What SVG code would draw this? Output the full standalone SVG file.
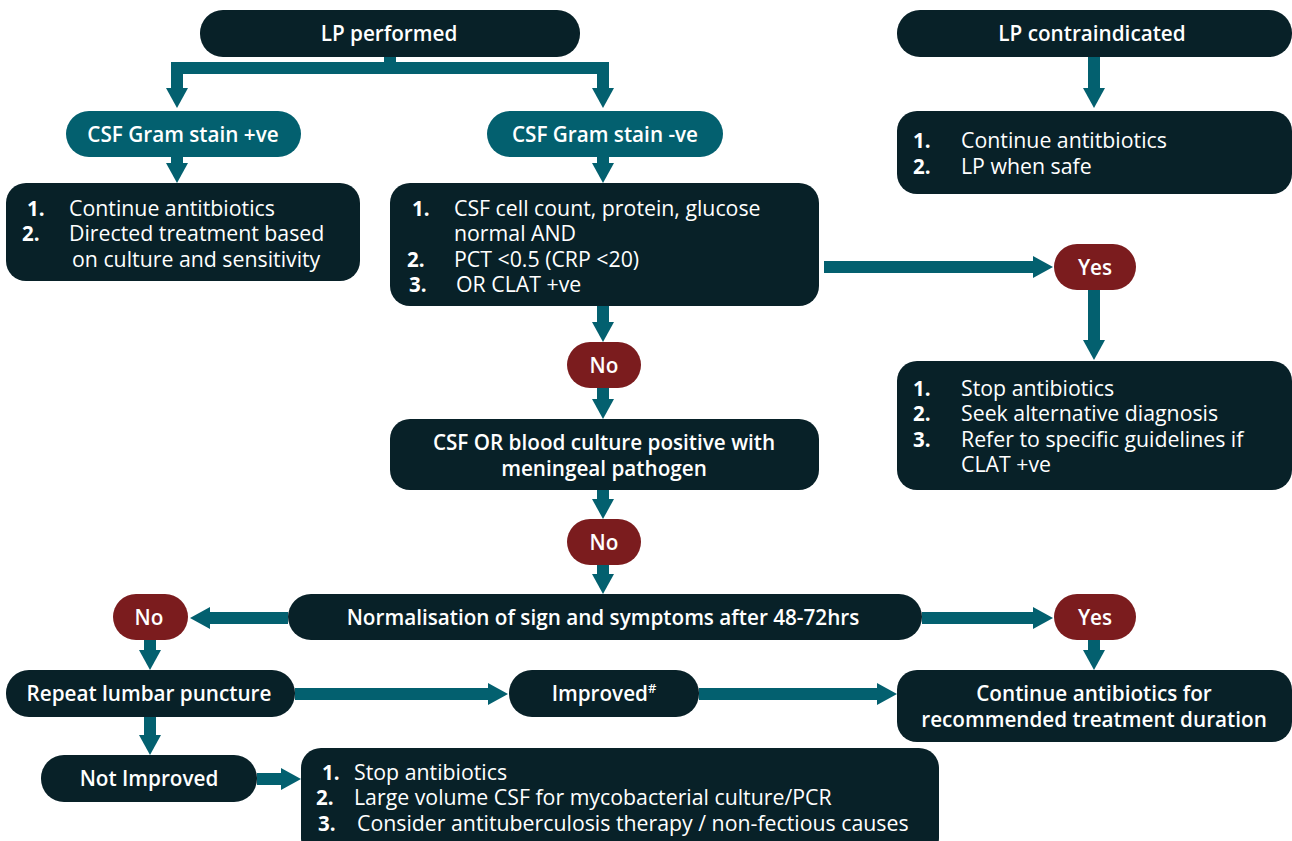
<svg xmlns="http://www.w3.org/2000/svg" width="1292" height="841" viewBox="0 0 1292 841">
<style>
.d{fill:#082128}
.t{fill:#03606f}
.r{fill:#7b1c1e}
text{font-family:"Open Sans","Noto Sans","Liberation Sans",sans-serif;fill:#ffffff;font-size:21.3px}
.b{font-weight:600;text-anchor:middle;font-size:20.7px}
.n{font-weight:700;font-size:20.5px}
.c{fill:none;stroke:#03606f;stroke-width:12}
</style>
<defs>
<marker id="ah" markerUnits="userSpaceOnUse" viewBox="0 0 20 22" refX="0" refY="11" markerWidth="20" markerHeight="22" orient="auto">
<path d="M0,0 L20,11 L0,22 Z" fill="#03606f"/>
</marker>
</defs>
<g id="connectors">
<path class="c" d="M390,57 V68 M171,68 H609"/>
<path class="c" d="M177,62 V88" marker-end="url(#ah)"/>
<path class="c" d="M603,62 V88" marker-end="url(#ah)"/>
<path class="c" d="M177,157 V163" marker-end="url(#ah)"/>
<path class="c" d="M603,157 V163" marker-end="url(#ah)"/>
<path class="c" d="M1094,57 V88" marker-end="url(#ah)"/>
<path class="c" d="M824,267 H1033" marker-end="url(#ah)"/>
<path class="c" d="M1094,290 V340" marker-end="url(#ah)"/>
<path class="c" d="M603,306 V322" marker-end="url(#ah)"/>
<path class="c" d="M603,388 V399" marker-end="url(#ah)"/>
<path class="c" d="M603,490 V499" marker-end="url(#ah)"/>
<path class="c" d="M603,565 V574" marker-end="url(#ah)"/>
<path class="c" d="M288,618 H210" marker-end="url(#ah)"/>
<path class="c" d="M922,618 H1033" marker-end="url(#ah)"/>
<path class="c" d="M150,640 V650" marker-end="url(#ah)"/>
<path class="c" d="M1094,640 V650" marker-end="url(#ah)"/>
<path class="c" d="M295,694 H488" marker-end="url(#ah)"/>
<path class="c" d="M699,694 H877" marker-end="url(#ah)"/>
<path class="c" d="M150,717 V735" marker-end="url(#ah)"/>
<path class="c" d="M257,779 H281" marker-end="url(#ah)"/>
</g>
<g id="lp-performed"><rect class="d" x="200" y="10" width="380" height="47" rx="23"/><text class="b" x="389" y="41">LP performed</text></g>
<g id="lp-contraindicated"><rect class="d" x="897" y="10" width="395" height="47" rx="23"/><text class="b" x="1092" y="41">LP contraindicated</text></g>
<g id="gram-pos"><rect class="t" x="66" y="111" width="235" height="46" rx="23"/><text class="b" x="183" y="142">CSF Gram stain +ve</text></g>
<g id="gram-neg"><rect class="t" x="487" y="111" width="236" height="46" rx="23"/><text class="b" x="605" y="142">CSF Gram stain -ve</text></g>
<g id="pos-actions"><rect class="d" x="6" y="183" width="354" height="98" rx="20"/>
<text class="n" x="27" y="216">1.</text><text x="69" y="216">Continue antitbiotics</text>
<text class="n" x="22" y="241">2.</text><text x="69" y="241">Directed treatment based</text>
<text x="72" y="267">on culture and sensitivity</text></g>
<g id="neg-criteria"><rect class="d" x="390" y="183" width="429" height="123" rx="20"/>
<text class="n" x="412" y="216">1.</text><text x="454" y="216">CSF cell count, protein, glucose</text>
<text x="454" y="241">normal AND</text>
<text class="n" x="407" y="267">2.</text><text x="454" y="267">PCT &lt;0.5 (CRP &lt;20)</text>
<text class="n" x="409" y="292">3.</text><text x="456" y="292">OR CLAT +ve</text></g>
<g id="contra-actions"><rect class="d" x="897" y="111" width="395" height="83" rx="20"/>
<text class="n" x="913" y="148">1.</text><text x="961" y="148">Continue antitbiotics</text>
<text class="n" x="913" y="174">2.</text><text x="961" y="174">LP when safe</text></g>
<g id="yes1"><rect class="r" x="1054" y="244" width="82" height="46" rx="23"/><text class="b" x="1095" y="275">Yes</text></g>
<g id="stop-actions"><rect class="d" x="897" y="361" width="395" height="129" rx="20"/>
<text class="n" x="913" y="396">1.</text><text x="961" y="396">Stop antibiotics</text>
<text class="n" x="913" y="421">2.</text><text x="961" y="421">Seek alternative diagnosis</text>
<text class="n" x="913" y="447">3.</text><text x="961" y="447">Refer to specific guidelines if</text>
<text x="961" y="472">CLAT +ve</text></g>
<g id="no1"><rect class="r" x="567" y="342" width="74" height="46" rx="23"/><text class="b" x="604" y="373">No</text></g>
<g id="culture"><rect class="d" x="390" y="419" width="429" height="71" rx="20"/>
<text class="b" x="604" y="450">CSF OR blood culture positive with</text>
<text class="b" x="604" y="476">meningeal pathogen</text></g>
<g id="no2"><rect class="r" x="567" y="519" width="74" height="46" rx="23"/><text class="b" x="604" y="550">No</text></g>
<g id="normalisation"><rect class="d" x="288" y="594" width="634" height="46" rx="23"/><text class="b" x="603" y="625">Normalisation of sign and symptoms after 48-72hrs</text></g>
<g id="no3"><rect class="r" x="113" y="594" width="75" height="46" rx="23"/><text class="b" x="149" y="625">No</text></g>
<g id="yes2"><rect class="r" x="1054" y="594" width="82" height="46" rx="23"/><text class="b" x="1095" y="625">Yes</text></g>
<g id="repeat-lp"><rect class="d" x="6" y="670" width="289" height="47" rx="23"/><text class="b" x="149" y="701">Repeat lumbar puncture</text></g>
<g id="improved"><rect class="d" x="509" y="670" width="190" height="47" rx="23"/><text class="b" x="604" y="701">Improved<tspan font-size="13" dy="-8">#</tspan></text></g>
<g id="continue"><rect class="d" x="897" y="670" width="395" height="72" rx="20"/>
<text class="b" x="1094" y="701">Continue antibiotics for</text>
<text class="b" x="1094" y="727">recommended treatment duration</text></g>
<g id="not-improved"><rect class="d" x="41" y="755" width="216" height="47" rx="23"/><text class="b" x="149" y="786">Not Improved</text></g>
<g id="not-improved-actions"><rect class="d" x="301" y="748" width="638" height="110" rx="20"/>
<text class="n" x="322" y="780">1.</text><text x="354" y="780">Stop antibiotics</text>
<text class="n" x="316" y="805">2.</text><text x="354" y="805">Large volume CSF for mycobacterial culture/PCR</text>
<text class="n" x="318" y="831">3.</text><text x="357" y="831">Consider antituberculosis therapy / non-fectious causes</text></g>
</svg>
